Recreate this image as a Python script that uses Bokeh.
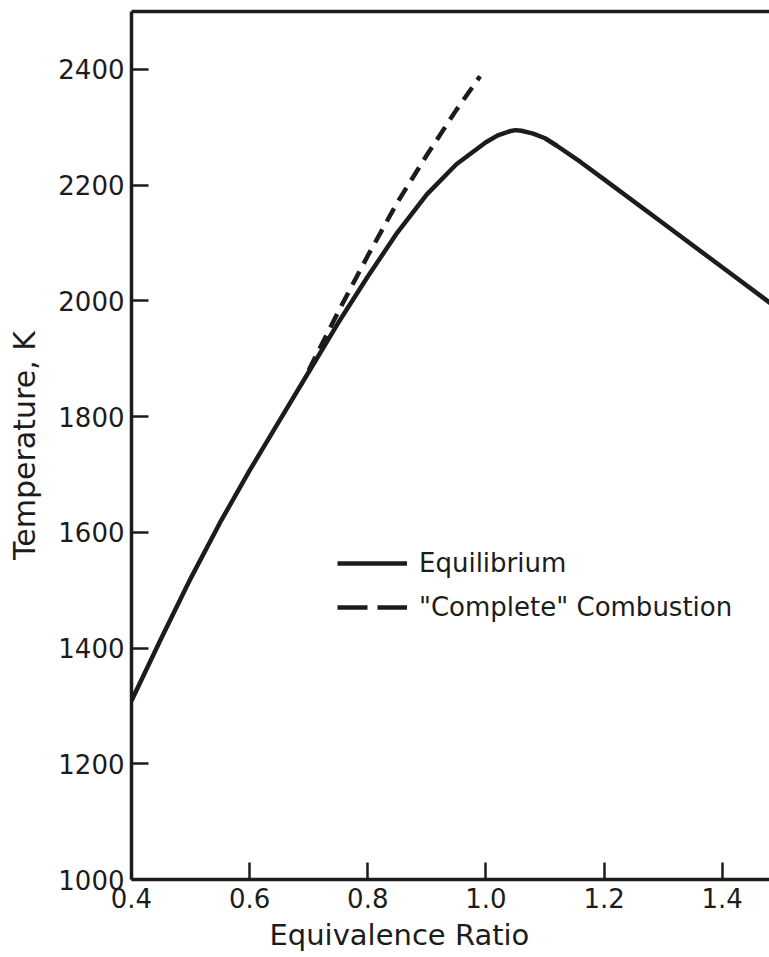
from bokeh.plotting import figure
from bokeh.models import (Range1d, LinearAxis, FixedTicker, Legend, LegendItem,
                          Title)
from bokeh.embed import file_html
from bokeh.resources import INLINE

# ---- data ----
eq_phi = [0.40, 0.45, 0.50, 0.55, 0.60, 0.65, 0.70, 0.75, 0.80, 0.85, 0.90, 0.95,
          1.00, 1.02, 1.04, 1.05, 1.06, 1.08, 1.10, 1.12, 1.16, 1.20, 1.30, 1.40, 1.50]
eq_T = [1309, 1416, 1520, 1617, 1707, 1792, 1877, 1962, 2042, 2118, 2184, 2236,
        2274, 2286, 2293, 2295, 2294, 2289, 2281, 2268, 2240, 2210, 2134, 2058, 1982]

cc_phi = [0.70, 0.75, 0.80, 0.85, 0.90, 0.95, 0.99]
cc_T = [1880, 1981, 2078, 2170, 2252, 2330, 2388]

x_ticks = [0.4, 0.6, 0.8, 1.0, 1.2, 1.4]
x_tick_labels = ["0.4", "0.6", "0.8", "1.0", "1.2", "1.4"]
y_ticks = [1000, 1200, 1400, 1600, 1800, 2000, 2200, 2400]
y_tick_labels = ["1000", "1200", "1400", "1600", "1800", "2000", "2200", "2400"]

series_names = ["Equilibrium", "\"Complete\" Combustion"]
x_title = "Equivalence Ratio"
y_title = "Temperature, K"

FONT = "DejaVu Sans"
INK = "#1c1c1c"
NAN = float("nan")

p = figure(width=769, height=957, output_backend="svg", toolbar_location=None,
           x_range=Range1d(0.4, 1.48), y_range=Range1d(1000, 2500),
           x_axis_type=None, y_axis_type=None,
           min_border_left=131, min_border_right=0, min_border_top=11,
           min_border_bottom=78)
p.outline_line_color = None
p.xgrid.visible = False
p.ygrid.visible = False
p.background_fill_color = "white"
p.border_fill_color = "white"

# axes
xaxis = LinearAxis(ticker=FixedTicker(ticks=x_ticks))
xaxis.major_label_overrides = dict(zip(x_ticks, x_tick_labels))
yaxis = LinearAxis(ticker=FixedTicker(ticks=y_ticks))
yaxis.major_label_overrides = dict(zip(y_ticks, y_tick_labels))
for ax in (xaxis, yaxis):
    ax.axis_line_width = 3.5
    ax.axis_line_color = INK
    ax.major_tick_line_color = INK
    ax.major_tick_line_width = 2.5
    ax.major_tick_in = 17
    ax.major_tick_out = 0
    ax.minor_tick_line_color = None
    ax.major_label_text_font = FONT
    ax.major_label_text_font_size = "26px"
    ax.major_label_text_color = INK
xaxis.major_label_standoff = 8
yaxis.major_label_standoff = 7
yaxis.axis_label = y_title
yaxis.axis_label_text_font = FONT
yaxis.axis_label_text_font_size = "30px"
yaxis.axis_label_text_font_style = "normal"
yaxis.axis_label_text_color = INK
yaxis.axis_label_standoff = 13
p.add_layout(xaxis, "below")
p.add_layout(yaxis, "left")

top = LinearAxis(ticker=FixedTicker(ticks=[]))
top.axis_line_width = 3.5
top.axis_line_color = INK
top.major_label_text_font_size = "0px"
top.major_tick_line_color = None
top.minor_tick_line_color = None
p.add_layout(top, "above")

p.add_layout(Title(text=x_title, align="left", offset=138,
                   text_font=FONT, text_font_size="29px",
                   text_font_style="normal", text_color=INK), "below")

# curves
eq = p.line(eq_phi, eq_T, line_color=INK, line_width=4.5, line_join="round")
cc = p.line(cc_phi, cc_T, line_color=INK, line_width=4.5, line_dash="15 9")

# legend keys (dash pattern as drawn in the legend key)
eq_key = p.line([NAN], [NAN], line_color=INK, line_width=4.5)
cc_key = p.line([NAN], [NAN], line_color=INK, line_width=4.5, line_dash="30 10")

legend = Legend(items=[LegendItem(label=series_names[0], renderers=[eq_key]),
                       LegendItem(label=series_names[1], renderers=[cc_key])],
                location=(206, 255), orientation="vertical",
                glyph_width=70, glyph_height=34, spacing=10,
                label_standoff=12, padding=0, margin=0,
                border_line_color=None, background_fill_alpha=0,
                label_text_font=FONT, label_text_font_size="26px",
                label_text_color=INK)
p.add_layout(legend, "center")

open("out.html", "w").write(file_html(p, INLINE))
